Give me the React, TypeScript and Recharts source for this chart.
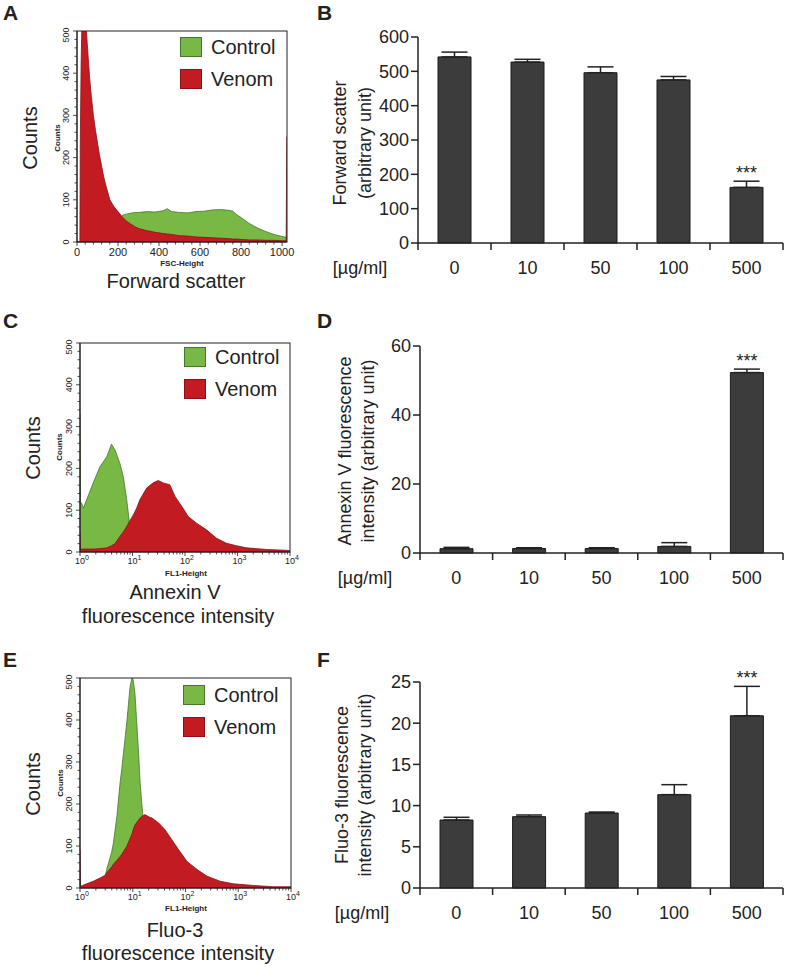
import React from "react";
import {
  ComposedChart,
  Area,
  XAxis,
  YAxis,
  Legend,
  BarChart,
  Bar,
  ErrorBar,
  LabelList,
} from "recharts";

const FONT = "'Liberation Sans', Arial, Helvetica, sans-serif";
const INK = "#222";
const BAR_FILL = "#3c3c3c";

const seriesStyle: Record<string, { fill: string; edge: string }> = {
  Control: { fill: "#78b845", edge: "#44762b" },
  Venom: { fill: "#c31b22", edge: "#8c1016" },
};

// A: forward scatter histogram (FSC-Height, linear)
const fscX = [0, 14, 16, 20, 24, 30, 40, 46, 50, 55, 60, 65, 70, 80, 90, 100, 110, 120, 130, 140, 150, 160, 170, 180, 200, 210, 220, 240, 260, 280, 300, 340, 380, 420, 440, 460, 500, 540, 580, 620, 660, 700, 740, 760, 780, 800, 840, 880, 920, 960, 1000, 1020, 1023];
const fscVenom = [0, 0, 230, 420, 520, 520, 520, 500, 470, 435, 400, 370, 345, 300, 265, 235, 205, 180, 155, 135, 118, 100, 92, 84, 72, 66, 60, 50, 43, 37, 32, 27, 23, 20, 19, 18, 15, 14, 12, 11, 10, 9, 8, 7, 7, 6, 5, 5, 4, 4, 3, 3, 250];
const fscControl = [0, 0, 1, 2, 3, 4, 6, 7, 8, 9, 10, 11, 12, 14, 16, 18, 20, 22, 25, 28, 31, 34, 38, 42, 50, 58, 63, 66, 68, 70, 70, 72, 71, 74, 79, 72, 70, 69, 72, 73, 76, 77, 75, 73, 64, 58, 44, 33, 25, 18, 13, 11, 11];

// C: Annexin V histogram (FL1-Height, log)
const annX = [1, 1.02, 1.07, 1.16, 1.34, 1.78, 2.4, 3.24, 3.98, 4.64, 5.75, 6.68, 7.76, 8.91, 10.4, 12, 13.8, 18.6, 25.1, 30.9, 38.9, 51.3, 64.6, 87.1, 115, 166, 257, 398, 617, 955, 1479, 3631, 8710, 10000];
const annControl = [330, 120, 117, 105, 125, 165, 204, 228, 258, 244, 212, 180, 125, 61, 13, 5, 3, 2, 1, 1, 1, 1, 0, 0, 0, 0, 0, 0, 0, 0, 0, 0, 0, 0];
const annVenom = [50, 8, 7, 7, 7, 7, 8, 10, 15, 20, 37, 48, 61, 75, 89, 105, 125, 153, 166, 171, 165, 161, 133, 109, 85, 69, 53, 33, 21, 15, 10, 6, 4, 3];

// E: Fluo-3 histogram (FL1-Height, log)
const fluoX = [1, 1.02, 1.07, 1.34, 1.78, 2.4, 2.95, 3.2, 3.98, 4.27, 5.01, 5.75, 6.17, 7.69, 8.91, 9.77, 10.2, 11, 12.9, 13.8, 14.8, 16.6, 17, 18.6, 21.4, 22.9, 30.9, 40.7, 55, 74.1, 107, 166, 257, 457, 813, 1950, 4677, 10000];
const fluoVenom = [91, 5, 5, 10, 16, 24, 30, 36, 50, 56, 66, 75, 80, 99, 118, 130, 139, 150, 162, 167, 170, 174, 175, 172, 168, 167, 155, 139, 115, 91, 63, 44, 28, 16, 10, 6, 3, 3];
const fluoControl = [0, 0, 0, 2, 4, 10, 22, 44, 85, 105, 171, 250, 282, 393, 480, 502, 495, 464, 321, 250, 202, 139, 120, 60, 12, 8, 4, 3, 2, 1, 1, 0, 0, 0, 0, 0, 0, 0];

// B, D, F: bar charts (mean + SEM)
const doses = ["0", "10", "50", "100", "500"];
const stars = ["", "", "", "", "***"];
const fscMean = [542, 527, 496, 475, 162];
const fscSem = [14, 8, 17, 10, 18];
const annMean = [1.25, 1.3, 1.3, 1.9, 52.3];
const annSem = [0.38, 0.22, 0.22, 1.1, 1.0];
const fluoMean = [8.25, 8.66, 9.1, 11.33, 20.9];
const fluoSem = [0.33, 0.2, 0.12, 1.21, 3.57];

const decades = [1, 10, 100, 1000, 10000];
const decadeExp = ["0", "1", "2", "3", "4"];
const logTicks = [
  ...decades,
  ...decades.slice(0, 4).flatMap((d) => [2, 3, 4, 5, 6, 7, 8, 9].map((m) => d * m)),
].sort((a, b) => a - b);
const linTicks = Array.from({ length: 26 }, (_, i) => i * 40);
const countTicks = Array.from({ length: 26 }, (_, i) => i * 20);

type Note = { text: string; x: number; y: number; size: number; bold?: boolean; vertical?: boolean };
type Box = { x: number; y: number; w: number; h: number };

function Notes({ items, frame }: { items: Note[]; frame?: Box }) {
  return (
    <g>
      {frame && (
        <rect x={frame.x} y={frame.y} width={frame.w} height={frame.h} fill="none" stroke={INK} strokeWidth={1} />
      )}
      {items.map((n, i) => (
        <text
          key={i}
          x={n.x}
          y={n.y}
          transform={n.vertical ? `rotate(-90 ${n.x} ${n.y})` : undefined}
          textAnchor="middle"
          dominantBaseline="central"
          fontSize={n.size}
          fontWeight={n.bold ? "bold" : "normal"}
          fill={INK}
          fontFamily={FONT}
        >
          {n.text}
        </text>
      ))}
    </g>
  );
}

const histXTick = (log: boolean, dy: number) => (props: any) => {
  const { x, y, payload } = props;
  const v = payload.value;
  const di = decades.indexOf(v);
  const major = log ? di >= 0 : v % 200 === 0;
  return (
    <g>
      <line x1={x} x2={x} y1={y} y2={y + (major ? 4 : 2.5)} stroke={INK} strokeWidth={0.8} />
      {major && log && (
        <text x={x + 2} y={y + dy} textAnchor="middle" fontSize={9} fill={INK} fontFamily={FONT}>
          10
          <tspan dy={-4} fontSize={7}>
            {decadeExp[di]}
          </tspan>
        </text>
      )}
      {major && !log && (
        <text x={x} y={y + dy} textAnchor="middle" fontSize={11} fill={INK} fontFamily={FONT}>
          {v}
        </text>
      )}
    </g>
  );
};

const histYTick = (props: any) => {
  const { x, y, payload } = props;
  const major = payload.value % 100 === 0;
  // top label sits just inside the axis end, as in the cytometer export
  const ly = payload.value === 500 ? y + 4 : y;
  return (
    <g>
      <line x1={x - (major ? 4 : 2.5)} x2={x} y1={y} y2={y} stroke={INK} strokeWidth={0.8} />
      {major && (
        <text
          x={x - 11}
          y={ly}
          transform={`rotate(-90 ${x - 11} ${ly})`}
          textAnchor="middle"
          dominantBaseline="central"
          fontSize={9}
          fill={INK}
          fontFamily={FONT}
        >
          {payload.value}
        </text>
      )}
    </g>
  );
};

const legendContent = (props: any) => (
  <div style={{ fontFamily: FONT }}>
    {(props.payload || []).map((p: any) => {
      const s = seriesStyle[p.value];
      if (!s) return null;
      return (
        <div key={p.value} style={{ display: "flex", alignItems: "center", height: 32 }}>
          <span
            style={{
              display: "inline-block",
              width: 22,
              height: 20,
              background: s.fill,
              boxSizing: "border-box",
              border: `1px solid ${s.edge}`,
            }}
          />
          <span style={{ marginLeft: 9, fontSize: 20, color: INK, whiteSpace: "nowrap" }}>{p.value}</span>
        </div>
      );
    })}
  </div>
);

type HistProps = {
  top: number;
  height: number;
  plotTop: number;
  plotBottom: number;
  plotLeft: number;
  plotRight: number;
  xs: number[];
  control: number[];
  venom: number[];
  log: boolean;
  legendTop: number;
  legendLeft: number;
  tickDy: number;
  notes: Note[];
};

function Histogram(p: HistProps) {
  const width = 330;
  const xDomain = p.log ? [1, 10000] : [0, 1024];
  const data = p.xs.map((x, i) => ({ x, control: p.control[i], venom: p.venom[i] }));
  const frame = { x: p.plotLeft, y: p.plotTop, w: p.plotRight - p.plotLeft, h: p.plotBottom - p.plotTop };
  return (
    <div style={{ position: "absolute", left: 0, top: p.top }}>
      <ComposedChart
        width={width}
        height={p.height}
        data={data}
        margin={{ top: p.plotTop, right: width - p.plotRight, bottom: 0, left: 0 }}
      >
        <XAxis
          dataKey="x"
          type="number"
          scale={p.log ? "log" : "linear"}
          domain={xDomain}
          ticks={p.log ? logTicks : linTicks}
          interval={0}
          allowDataOverflow
          height={p.height - p.plotBottom}
          tickSize={0}
          tickMargin={0}
          tickLine={false}
          axisLine={{ stroke: INK, strokeWidth: 1 }}
          tick={histXTick(p.log, p.tickDy)}
          label={{ content: () => <Notes items={p.notes} frame={frame} /> }}
        />
        <YAxis
          type="number"
          domain={[0, 500]}
          ticks={countTicks}
          interval={0}
          allowDataOverflow
          width={p.plotLeft}
          tickSize={0}
          tickMargin={0}
          tickLine={false}
          axisLine={{ stroke: INK, strokeWidth: 1 }}
          tick={histYTick}
        />
        <Legend
          layout="vertical"
          align="center"
          verticalAlign="middle"
          content={legendContent}
          wrapperStyle={{ position: "absolute", top: p.legendTop - 6, left: p.legendLeft, width: "auto" }}
        />
        <Area
          dataKey="control"
          name="Control"
          type="linear"
          fill={seriesStyle.Control.fill}
          fillOpacity={1}
          stroke={seriesStyle.Control.edge}
          strokeWidth={0.8}
          dot={false}
          activeDot={false}
          isAnimationActive={false}
        />
        <Area
          dataKey="venom"
          name="Venom"
          type="linear"
          fill={seriesStyle.Venom.fill}
          fillOpacity={1}
          stroke={seriesStyle.Venom.edge}
          strokeWidth={0.8}
          dot={false}
          activeDot={false}
          isAnimationActive={false}
        />
      </ComposedChart>
    </div>
  );
}

const doseTick = (half: number) => (props: any) => {
  const { x, y, payload } = props;
  const last = payload.value === doses[doses.length - 1];
  return (
    <g>
      <line x1={x - half} x2={x - half} y1={y} y2={y + 7} stroke={INK} strokeWidth={1.5} />
      {last && <line x1={x + half} x2={x + half} y1={y} y2={y + 7} stroke={INK} strokeWidth={1.5} />}
      <text x={x} y={y + 31} textAnchor="middle" fontSize={18} fill={INK} fontFamily={FONT}>
        {payload.value}
      </text>
    </g>
  );
};

const starLabel = (means: number[], sems: number[]) => (props: any) => {
  const vb = props.viewBox || props;
  const { x, y, width, height } = vb;
  const { index, value } = props;
  if (!value) return null;
  const px = height / means[index];
  const errTop = y - sems[index] * px;
  return (
    <text x={x + width / 2} y={errTop - 2} textAnchor="middle" fontSize={18} fill={INK} fontFamily={FONT}>
      {value}
    </text>
  );
};

type DoseProps = {
  top: number;
  height: number;
  plotTop: number;
  plotBottom: number;
  plotLeft: number;
  means: number[];
  sems: number[];
  yMax: number;
  yTicks: number[];
  yLines: [string, string];
  yLabelX: [number, number];
  yLabelY: number;
  unitX: number;
};

function DoseBars(p: DoseProps) {
  const width = 457;
  const plotRight = 453;
  const half = (plotRight - p.plotLeft) / 10;
  const data = doses.map((d, i) => ({ dose: d, mean: p.means[i], err: [0, p.sems[i]], sig: stars[i] }));
  const yNotes: Note[] = [
    { text: p.yLines[0], x: p.yLabelX[0], y: p.yLabelY, size: 18, vertical: true },
    { text: p.yLines[1], x: p.yLabelX[1], y: p.yLabelY, size: 18, vertical: true },
    { text: "[µg/ml]", x: p.unitX, y: p.plotBottom + 25, size: 18 },
  ];
  return (
    <div style={{ position: "absolute", left: 330, top: p.top }}>
      <BarChart
        width={width}
        height={p.height}
        data={data}
        margin={{ top: p.plotTop, right: width - plotRight, bottom: 0, left: 0 }}
      >
        <XAxis
          dataKey="dose"
          height={p.height - p.plotBottom}
          interval={0}
          tickSize={0}
          tickMargin={0}
          tickLine={false}
          axisLine={{ stroke: INK, strokeWidth: 1.5 }}
          tick={doseTick(half)}
          label={{ content: () => <Notes items={yNotes} /> }}
        />
        <YAxis
          type="number"
          domain={[0, p.yMax]}
          ticks={p.yTicks}
          interval={0}
          width={p.plotLeft}
          tickSize={7}
          tickMargin={2}
          axisLine={{ stroke: INK, strokeWidth: 1.5 }}
          tickLine={{ stroke: INK, strokeWidth: 1.5 }}
          tick={{ fontSize: 18, fill: INK, fontFamily: FONT }}
        />
        <Bar dataKey="mean" fill={BAR_FILL} stroke="#1a1a1a" strokeWidth={1} barSize={33} isAnimationActive={false}>
          <ErrorBar dataKey="err" direction="y" width={13} stroke={INK} strokeWidth={1.5} />
          <LabelList dataKey="sig" content={starLabel(p.means, p.sems)} />
        </Bar>
      </BarChart>
    </div>
  );
}

const letterStyle = (left: number, top: number): React.CSSProperties => ({
  position: "absolute",
  left,
  top,
  fontSize: 21,
  fontWeight: "bold",
  lineHeight: 1,
  color: INK,
  fontFamily: FONT,
});

export default function App() {
  return (
    <div style={{ position: "absolute", left: 0, top: 0, width: 787, height: 967, background: "#fff", fontFamily: FONT }}>
      <div style={letterStyle(3, 2)}>A</div>
      <div style={letterStyle(317, 2)}>B</div>
      <div style={letterStyle(3, 310)}>C</div>
      <div style={letterStyle(317, 310)}>D</div>
      <div style={letterStyle(3, 649)}>E</div>
      <div style={letterStyle(317, 649)}>F</div>

      <Histogram
        top={0}
        height={300}
        plotTop={31}
        plotBottom={242}
        plotLeft={77}
        plotRight={287}
        xs={fscX}
        control={fscControl}
        venom={fscVenom}
        log={false}
        legendTop={37}
        legendLeft={180}
        tickDy={14}
        notes={[
          { text: "Counts", x: 30, y: 138, size: 20, vertical: true },
          { text: "Counts", x: 57, y: 138, size: 8, bold: true, vertical: true },
          { text: "FSC-Height", x: 182, y: 263, size: 8, bold: true },
          { text: "Forward scatter", x: 176, y: 281, size: 20 },
        ]}
      />
      <DoseBars
        top={0}
        height={300}
        plotTop={37}
        plotBottom={243}
        plotLeft={88}
        means={fscMean}
        sems={fscSem}
        yMax={600}
        yTicks={[0, 100, 200, 300, 400, 500, 600]}
        yLines={["Forward scatter", "(arbitrary unit)"]}
        yLabelX={[10, 35]}
        yLabelY={143}
        unitX={30}
      />

      <Histogram
        top={300}
        height={330}
        plotTop={43}
        plotBottom={252}
        plotLeft={80}
        plotRight={290}
        xs={annX}
        control={annControl}
        venom={annVenom}
        log={true}
        legendTop={47}
        legendLeft={184}
        tickDy={12}
        notes={[
          { text: "Counts", x: 33, y: 148, size: 20, vertical: true },
          { text: "Counts", x: 59, y: 147, size: 8, bold: true, vertical: true },
          { text: "FL1-Height", x: 186, y: 273, size: 8, bold: true },
          { text: "Annexin V", x: 175, y: 292, size: 20 },
          { text: "fluorescence intensity", x: 178, y: 316, size: 20 },
        ]}
      />
      <DoseBars
        top={300}
        height={330}
        plotTop={46}
        plotBottom={253}
        plotLeft={90}
        means={annMean}
        sems={annSem}
        yMax={60}
        yTicks={[0, 20, 40, 60]}
        yLines={["Annexin V fluorescence", "intensity (arbitrary unit)"]}
        yLabelX={[15, 38]}
        yLabelY={151}
        unitX={35}
      />

      <Histogram
        top={630}
        height={337}
        plotTop={48}
        plotBottom={258}
        plotLeft={80}
        plotRight={291}
        xs={fluoX}
        control={fluoControl}
        venom={fluoVenom}
        log={true}
        legendTop={55}
        legendLeft={183}
        tickDy={12}
        notes={[
          { text: "Counts", x: 33, y: 154, size: 20, vertical: true },
          { text: "Counts", x: 60, y: 153, size: 8, bold: true, vertical: true },
          { text: "FL1-Height", x: 186, y: 278, size: 8, bold: true },
          { text: "Fluo-3", x: 175, y: 300, size: 20 },
          { text: "fluorescence intensity", x: 178, y: 323, size: 20 },
        ]}
      />
      <DoseBars
        top={630}
        height={337}
        plotTop={52}
        plotBottom={258}
        plotLeft={90}
        means={fluoMean}
        sems={fluoSem}
        yMax={25}
        yTicks={[0, 5, 10, 15, 20, 25]}
        yLines={["Fluo-3 fluorescence", "intensity (arbitrary unit)"]}
        yLabelX={[12, 35]}
        yLabelY={155}
        unitX={32}
      />
    </div>
  );
}
